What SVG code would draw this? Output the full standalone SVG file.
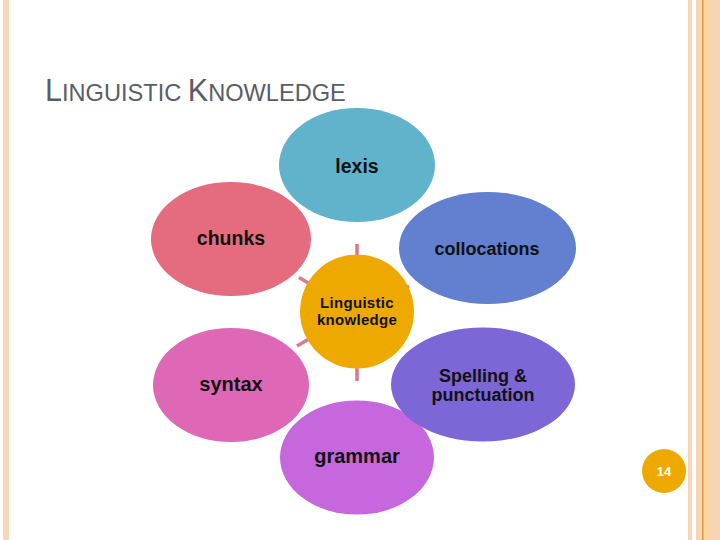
<svg xmlns="http://www.w3.org/2000/svg" width="720" height="540" viewBox="0 0 720 540">
<style>
.lbl{font-family:"Liberation Sans",Arial,sans-serif;font-weight:bold;fill:#111;text-anchor:middle}
.conn{stroke:#D9798F;stroke-width:3.5;fill:none}
</style>
<rect width="720" height="540" fill="#fff"/>
<g id="border">
<rect x="3" y="0" width="6" height="540" fill="#F6D6B6"/>
<rect x="688" y="0" width="4" height="540" fill="#F6D6B6"/>
<rect x="696" y="0" width="24" height="540" fill="#F5D5B4"/>
<rect x="703" y="0" width="7" height="540" fill="#F8D7A2"/>
<rect x="702" y="0" width="1.5" height="540" fill="#D99A3C"/>
</g>
<text x="45" y="101" font-family="'Liberation Sans',Arial,sans-serif" fill="#595D66"><tspan font-size="30.5">L</tspan><tspan font-size="23.6">INGUISTIC </tspan><tspan font-size="30.5">K</tspan><tspan font-size="23.6">NOWLEDGE</tspan></text>
<g id="connectors">
<line class="conn" x1="357" y1="244" x2="357" y2="258"/>
<line class="conn" x1="357" y1="366" x2="357" y2="381"/>
<line class="conn" x1="299" y1="277.5" x2="310" y2="284"/>
<line class="conn" x1="297" y1="346" x2="309" y2="339"/>
<line class="conn" x1="409" y1="286" x2="404" y2="289"/>
<line class="conn" x1="405" y1="340" x2="400" y2="337"/>
</g>
<g id="lexis"><ellipse cx="357" cy="165" rx="78" ry="57" fill="#61B3CB"/><text class="lbl" x="357" y="173" font-size="19.5">lexis</text></g>
<g id="chunks"><ellipse cx="231" cy="239" rx="80" ry="57" fill="#E46C7E"/><text class="lbl" x="231" y="245" font-size="19.5">chunks</text></g>
<g id="collocations"><ellipse cx="487.5" cy="248" rx="88.5" ry="56" fill="#637FD0"/><text class="lbl" x="487" y="255" font-size="18">collocations</text></g>
<g id="syntax"><ellipse cx="231" cy="385" rx="78" ry="57" fill="#DE67B6"/><text class="lbl" x="231" y="391" font-size="20">syntax</text></g>
<g id="grammar"><ellipse cx="357" cy="457.5" rx="77" ry="57" fill="#C667DE"/><text class="lbl" x="357" y="463" font-size="20">grammar</text></g>
<g id="spelling"><ellipse cx="483" cy="384.5" rx="92" ry="57" fill="#7D66D6"/><text class="lbl" x="483" y="382" font-size="18">Spelling &amp;</text><text class="lbl" x="483" y="401" font-size="18">punctuation</text></g>
<g id="center"><circle cx="357" cy="311.5" r="57" fill="#EEA900"/><text class="lbl" x="357" y="308" font-size="15" letter-spacing="0.3">Linguistic</text><text class="lbl" x="357" y="325" font-size="15" letter-spacing="0.3">knowledge</text></g>
<g id="page"><circle cx="664" cy="471" r="22" fill="#EEA900"/><text x="664" y="476" font-family="'Liberation Sans',Arial,sans-serif" font-weight="bold" font-size="13" fill="#fff" text-anchor="middle">14</text></g>
</svg>
